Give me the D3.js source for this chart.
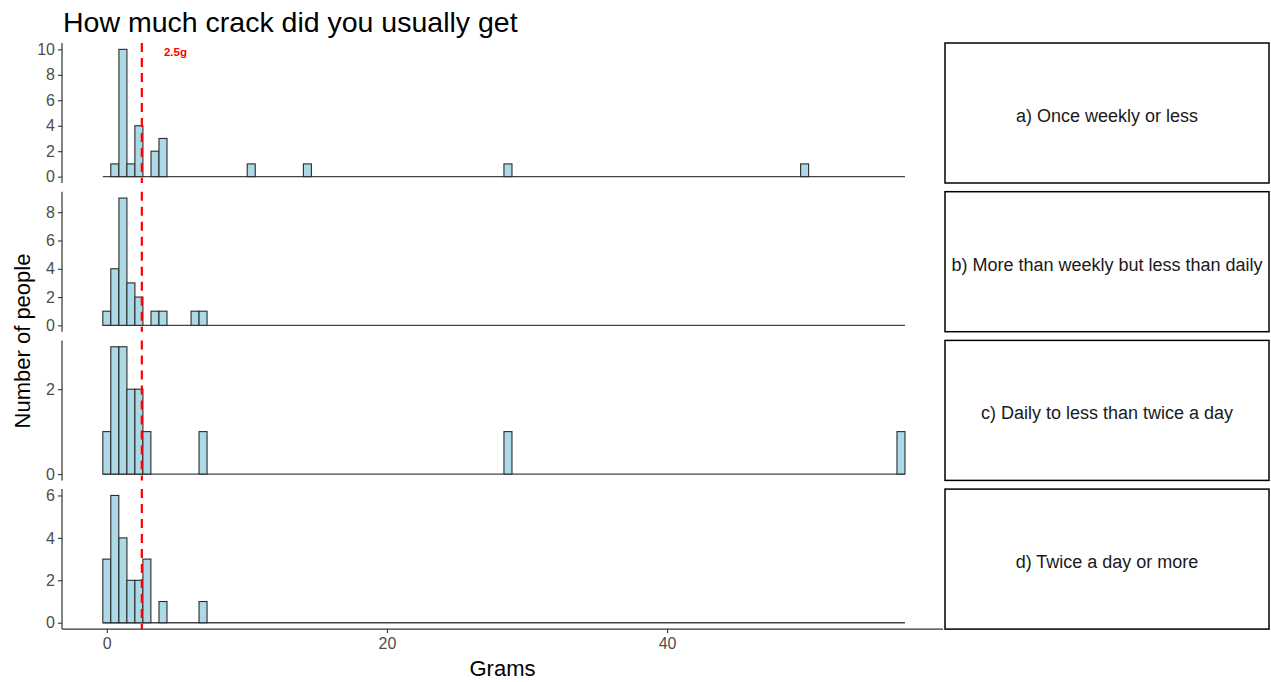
<!DOCTYPE html>
<html>
<head>
<meta charset="utf-8">
<script src="https://cdn.jsdelivr.net/npm/d3@7/dist/d3.min.js"></script>
<style>
  html, body { margin: 0; padding: 0; background: #fff; }
  svg { display: block; font-family: "Liberation Sans", Arial, sans-serif; }
</style>
</head>
<body>
<svg id="chart" width="1271" height="682"></svg>
<script>
// Histogram settings: 100 bins spanning 0 .. 56.7 g
const binCount = 100;
const binWidth = 0.5727;
const cutoff = 2.5;

// Facet labels
const panelLabels = [
  "a) Once weekly or less",
  "b) More than weekly but less than daily",
  "c) Daily to less than twice a day",
  "d) Twice a day or more"
];

// Bin centres (grams) and number of people per bin, one pair per facet
const gramsA  = [0.57, 1.15, 1.72, 2.29, 3.44, 4.01, 10.31, 14.32, 28.64, 49.82];
const countsA = [1, 10, 1, 4, 2, 3, 1, 1, 1, 1];

const gramsB  = [0, 0.57, 1.15, 1.72, 2.29, 3.44, 4.01, 6.30, 6.87];
const countsB = [1, 4, 9, 3, 2, 1, 1, 1, 1];

const gramsC  = [0, 0.57, 1.15, 1.72, 2.29, 2.86, 6.87, 28.64, 56.70];
const countsC = [1, 3, 3, 2, 2, 1, 1, 1, 1];

const gramsD  = [0, 0.57, 1.15, 1.72, 2.29, 2.86, 4.01, 6.87];
const countsD = [3, 6, 4, 2, 2, 3, 1, 1];

// Axis tick values
const xTicks = [0, 20, 40];
const yTicksA = [0, 2, 4, 6, 8, 10];
const yTicksB = [0, 2, 4, 6, 8];
const yTicksC = [0, 2];
const yTicksD = [0, 2, 4, 6];

const panels = [
  { label: panelLabels[0], grams: gramsA, counts: countsA, ticks: yTicksA },
  { label: panelLabels[1], grams: gramsB, counts: countsB, ticks: yTicksB },
  { label: panelLabels[2], grams: gramsC, counts: countsC, ticks: yTicksC },
  { label: panelLabels[3], grams: gramsD, counts: countsD, ticks: yTicksD }
];

const svg = d3.select("#chart");
const left = 62, right = 943;
const stripX = 945, stripW = 324;
const panelTop0 = 43, panelH = 140, panelStep = 148.7;
const axisColor = "#333333";
const tickTextColor = "#4d4d4d";

const x = d3.scaleLinear().domain([-3.2, 59.7]).range([left, right]);

// Title
svg.append("text")
  .attr("x", 63).attr("y", 32)
  .attr("font-size", 28.5).attr("fill", "#000")
  .text("How much crack did you usually get");

panels.forEach((p, i) => {
  const top = panelTop0 + i * panelStep;
  const bottom = top + panelH;
  const maxC = d3.max(p.counts);
  const y = d3.scaleLinear()
    .domain([-0.05 * maxC, maxC * 1.05])
    .range([bottom, top]);

  const g = svg.append("g");

  // zero-count bins collapse onto a baseline across the full bin range
  g.append("line")
    .attr("x1", x(-binWidth / 2)).attr("x2", x((binCount - 1) * binWidth + binWidth / 2))
    .attr("y1", y(0)).attr("y2", y(0))
    .attr("stroke", "#444").attr("stroke-width", 1.3);

  const bins = p.grams.map((gm, k) => ({ g: gm, n: p.counts[k] }));
  g.selectAll("rect.bar").data(bins).enter().append("rect")
    .attr("class", "bar")
    .attr("x", d => x(d.g - binWidth / 2))
    .attr("width", d => x(d.g + binWidth / 2) - x(d.g - binWidth / 2))
    .attr("y", d => y(d.n))
    .attr("height", d => y(0) - y(d.n))
    .attr("fill", "#add8e6")
    .attr("stroke", "#2b2b2b")
    .attr("stroke-width", 1.1);

  // cutoff line
  g.append("line")
    .attr("x1", x(cutoff)).attr("x2", x(cutoff))
    .attr("y1", top).attr("y2", bottom)
    .attr("stroke", "#ff0000").attr("stroke-width", 2.2)
    .attr("stroke-dasharray", "9,6");

  // y axis
  const yAxis = d3.axisLeft(y).tickValues(p.ticks).tickSize(4).tickPadding(3)
    .tickFormat(d3.format("d"));
  const ya = g.append("g").attr("transform", `translate(${left},0)`).call(yAxis);
  ya.select(".domain").attr("d", `M0,${top}V${bottom}`).attr("stroke", axisColor).attr("stroke-width", 1.2);
  ya.selectAll(".tick line").attr("stroke", axisColor).attr("stroke-width", 1.1);
  ya.selectAll(".tick text").attr("font-size", 16).attr("fill", tickTextColor)
    .attr("font-family", "Liberation Sans, Arial, sans-serif");

  // facet strip
  g.append("rect")
    .attr("x", stripX).attr("y", top).attr("width", stripW).attr("height", panelH)
    .attr("fill", "#fff").attr("stroke", "#000").attr("stroke-width", 1.5);
  g.append("text")
    .attr("x", stripX + stripW / 2).attr("y", top + panelH / 2 + 3)
    .attr("text-anchor", "middle").attr("dominant-baseline", "central")
    .attr("font-size", 18).attr("fill", "#1a1a1a")
    .text(p.label);

  if (i === 0) {
    g.append("text")
      .attr("x", x(4.9)).attr("y", 56)
      .attr("text-anchor", "middle")
      .attr("font-size", 11.5).attr("font-weight", "bold").attr("fill", "#ff0000")
      .text(cutoff + "g");
  }

  if (i === panels.length - 1) {
    const xAxis = d3.axisBottom(x).tickValues(xTicks).tickSize(4).tickPadding(5);
    const xa = g.append("g").attr("transform", `translate(0,${bottom})`).call(xAxis);
    xa.select(".domain").attr("d", `M${left},0H${right}`).attr("stroke", axisColor).attr("stroke-width", 1.2);
    xa.selectAll(".tick line").attr("stroke", axisColor).attr("stroke-width", 1.1);
    xa.selectAll(".tick text").attr("font-size", 16).attr("fill", tickTextColor)
      .attr("font-family", "Liberation Sans, Arial, sans-serif");
  }
});

// Axis titles
svg.append("text")
  .attr("x", (left + right) / 2).attr("y", 676)
  .attr("text-anchor", "middle").attr("font-size", 22).attr("fill", "#000")
  .text("Grams");

svg.append("text")
  .attr("transform", "translate(30,341) rotate(-90)")
  .attr("text-anchor", "middle").attr("font-size", 22).attr("fill", "#000")
  .text("Number of people");
</script>
</body>
</html>
